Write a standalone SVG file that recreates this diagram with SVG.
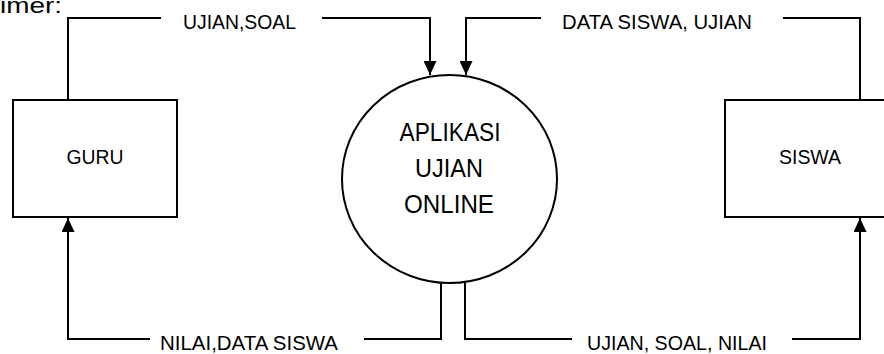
<svg xmlns="http://www.w3.org/2000/svg" width="884" height="354" viewBox="0 0 884 354">
<style>
.ln{fill:none;stroke:#000;stroke-width:2}
.box{fill:#fff;stroke:#000;stroke-width:2}
.t{font-family:"Liberation Sans",Arial,sans-serif;fill:#000}
.lbl{font-size:20px}
.nm{font-size:21px}
.big{font-size:25px}
</style>
<defs>
<marker id="ah" markerUnits="userSpaceOnUse" markerWidth="14" markerHeight="13" refX="14" refY="6.5" orient="auto">
<path d="M0,0 L14,6.5 L0,13 z" fill="#000"/>
</marker>
</defs>
<rect width="884" height="354" fill="#fff"/>
<text class="t" x="0" y="13" font-size="22" textLength="62" lengthAdjust="spacingAndGlyphs">imer:</text>
<g id="connectors">
<path class="ln" d="M68,100 V18 H161 M322,18 H430 V75" marker-end="url(#ah)"/>
<text class="t lbl" x="183" y="29" textLength="113" lengthAdjust="spacingAndGlyphs">UJIAN,SOAL</text>
<path class="ln" d="M860,100 V18 H783 M541,18 H466 V75" marker-end="url(#ah)"/>
<text class="t lbl" x="562" y="29" textLength="190" lengthAdjust="spacingAndGlyphs">DATA SISWA, UJIAN</text>
<path class="ln" d="M441,283 V339 H364 M150,339 H68 V218" marker-end="url(#ah)"/>
<text class="t lbl" x="160" y="350" textLength="178" lengthAdjust="spacingAndGlyphs">NILAI,DATA SISWA</text>
<path class="ln" d="M465,283 V339 H572 M792,339 H860 V218" marker-end="url(#ah)"/>
<text class="t lbl" x="587" y="350" textLength="180" lengthAdjust="spacingAndGlyphs">UJIAN, SOAL, NILAI</text>
</g>
<g id="guru">
<rect class="box" x="13" y="100" width="164" height="117"/>
<text class="t nm" x="95" y="164" text-anchor="middle" textLength="57" lengthAdjust="spacingAndGlyphs">GURU</text>
</g>
<g id="siswa">
<rect class="box" x="725" y="100" width="180" height="117"/>
<text class="t nm" x="810" y="164" text-anchor="middle" textLength="62" lengthAdjust="spacingAndGlyphs">SISWA</text>
</g>
<g id="aplikasi">
<ellipse class="box" cx="449.5" cy="179" rx="107.5" ry="104"/>
<text class="t big" x="450" y="141" text-anchor="middle" textLength="101" lengthAdjust="spacingAndGlyphs">APLIKASI</text>
<text class="t big" x="449" y="177" text-anchor="middle" textLength="68" lengthAdjust="spacingAndGlyphs">UJIAN</text>
<text class="t big" x="449" y="213" text-anchor="middle" textLength="90" lengthAdjust="spacingAndGlyphs">ONLINE</text>
</g>
</svg>
